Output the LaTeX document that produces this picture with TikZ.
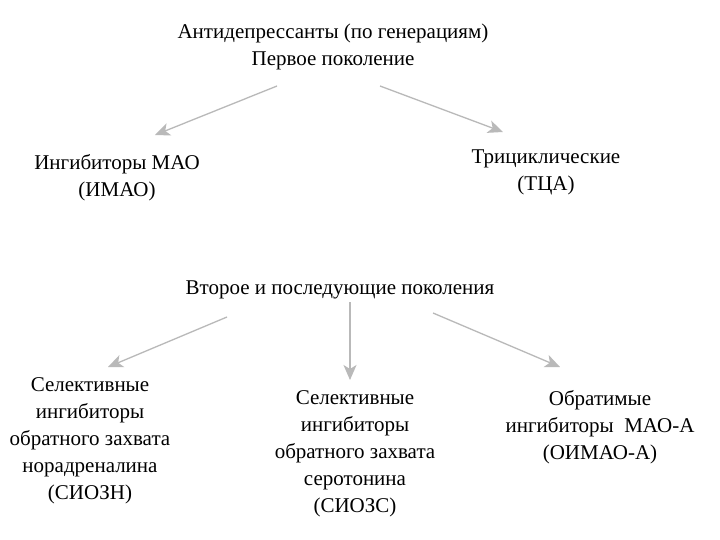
\documentclass[tikz,border=0pt]{standalone}
\usepackage{fontspec}
\setmainfont{Liberation Serif}
\usetikzlibrary{arrows.meta}
\tikzstyle{every node}=[inner sep=0pt, align=center]

\begin{document}
\begin{tikzpicture}[x=1pt, y=-1pt,
    caption/.style={%
        font=\fontsize{21}{27}\selectfont,
        text centered},
    arrowline/.style={%
        draw=gray!55, line width=1.3pt,
        -{Stealth[length=15pt,width=13pt,inset=4pt]}},
]
    \useasboundingbox[fill=white] (0,0) rectangle (720,540);

    % First generation
    \node[caption] (first) at (333,47) {Антидепрессанты (по генерациям)\\Первое поколение};
    \node[caption] (imao) at (117,178) {Ингибиторы МАО\\(ИМАО)};
    \node[caption] (tca) at (546,172) {Трициклические\\(ТЦА)};

    \coordinate (firstL) at (277,86);
    \coordinate (firstR) at (380,86);
    \coordinate (imaoTip) at (155,135);
    \coordinate (tcaTip) at (503,132);
    \draw[arrowline] (firstL) -- (imaoTip);
    \draw[arrowline] (firstR) -- (tcaTip);

    % Second and later generations
    \node[caption] (second) at (340,290) {Второе и последующие поколения};
    \node[caption] (siozn) at (90,441) {Селективные\\ингибиторы\\обратного захвата\\норадреналина\\(СИОЗН)};
    \node[caption] (siozs) at (355,454) {Селективные\\ингибиторы\\обратного захвата\\серотонина\\(СИОЗС)};
    \node[caption] (oimao) at (600,427) {Обратимые\\ингибиторы~~МАО-А\\(ОИМАО-А)};

    \coordinate (secondL) at (227,317);
    \coordinate (secondM) at (350,302);
    \coordinate (secondR) at (433,313);
    \coordinate (sioznTip) at (108,367);
    \coordinate (siozsTip) at (350,380);
    \coordinate (oimaoTip) at (560,367);
    \draw[arrowline] (secondL) -- (sioznTip);
    \draw[arrowline] (secondM) -- (siozsTip);
    \draw[arrowline] (secondR) -- (oimaoTip);
\end{tikzpicture}
\end{document}
